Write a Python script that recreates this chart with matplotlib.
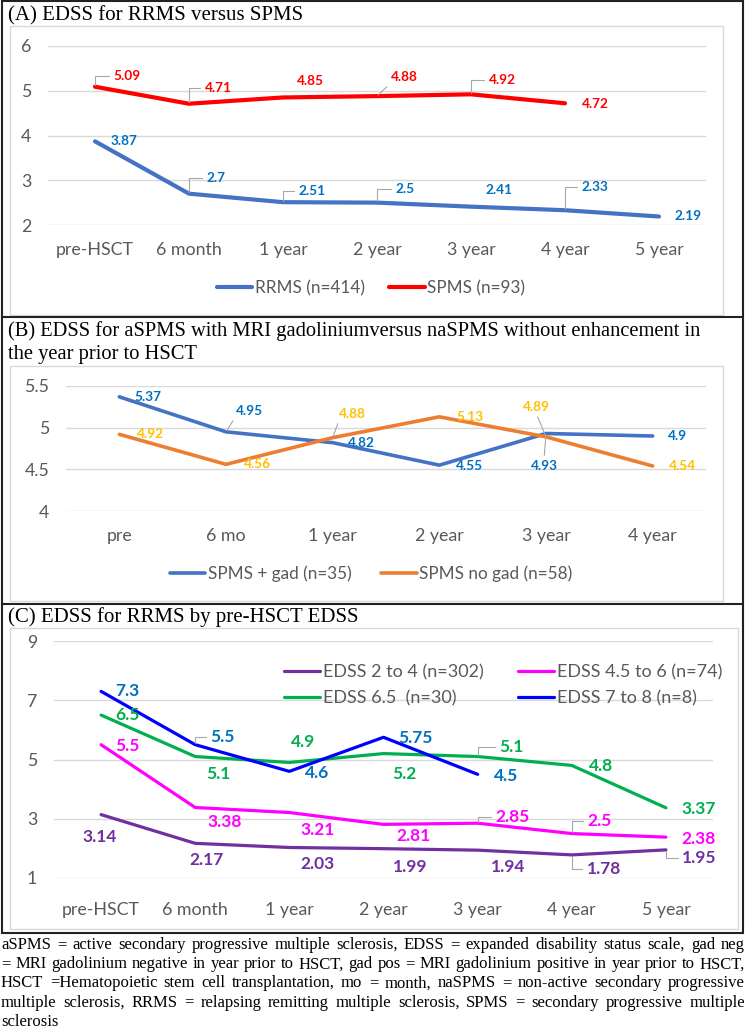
import matplotlib.pyplot as plt
from matplotlib.patches import Rectangle
from matplotlib.lines import Line2D

W, H = 749, 1035
plt.rcParams['font.family'] = ['Lato', 'DejaVu Sans']

# ---- data ----
cats_a = ["pre-HSCT", "6 month", "1 year", "2 year", "3 year", "4 year", "5 year"]
rrms = [3.87, 2.7, 2.51, 2.5, 2.41, 2.33, 2.19]
spms = [5.09, 4.71, 4.85, 4.88, 4.92, 4.72]

cats_b = ["pre", "6 mo", "1 year", "2 year", "3 year", "4 year"]
spms_gad = [5.37, 4.95, 4.82, 4.55, 4.93, 4.9]
spms_nogad = [4.92, 4.56, 4.88, 5.13, 4.89, 4.54]

cats_c = ["pre-HSCT", "6 month", "1 year", "2 year", "3 year", "4 year", "5 year"]
edss_2_4 = [3.14, 2.17, 2.03, 1.99, 1.94, 1.78, 1.95]
edss_45_6 = [5.5, 3.38, 3.21, 2.81, 2.85, 2.5, 2.38]
edss_65 = [6.5, 5.1, 4.9, 5.2, 5.1, 4.8, 3.37]
edss_7_8 = [7.3, 5.5, 4.6, 5.75, 4.5]

# label offsets in pixels (dx right, dy down) and leader line type
offs_spms = [(32, -11, 'L'), (29, -16, 'L'), (27, -16, None), (27, -19, 'diag'), (31, -14, 'L'), (30, 1, None)]
offs_rrms = [(29, 0, None), (27, -16, 'L'), (29, -11, 'L'), (28, -14, 'L'), (28, -17, None), (30, -23, 'L'), (29, 0, None)]
offs_gad = [(29, 0, None), (23, -21, 'diag'), (29, 0, None), (30, 1, None), (-2, 32, 'up'), (25, 0, None)]
offs_nogad = [(31, 0, None), (31, 0, None), (20, -24, 'diag'), (31, 0, None), (-10, -30, 'down'), (30, 0, None)]
offs_2_4 = [(-1, 22, None), (11, 17, None), (28, 17, None), (27, 18, None), (30, 17, None), (32, 14, 'L'), (33, 8, 'L')]
offs_45_6 = [(26, 1, None), (29, 15, None), (28, 17, None), (30, 12, None), (35, -6, 'L'), (28, -13, 'L'), (33, 2, None)]
offs_65 = [(26, 0, None), (23, 17, None), (14, -20, None), (21, 20, None), (34, -10, 'L'), (29, 1, None), (33, 1, None)]
offs_7_8 = [(26, 0, None), (27, -8, 'L'), (28, 2, None), (32, 1, None), (28, 2, None)]

footnote = [
    "aSPMS = active secondary progressive multiple sclerosis, EDSS = expanded disability status scale, gad neg",
    "= MRI gadolinium negative in year prior to HSCT, gad pos = MRI gadolinium positive in year prior to HSCT,",
    "HSCT =Hematopoietic stem cell transplantation, mo = month, naSPMS = non-active secondary progressive",
    "multiple sclerosis,  RRMS = relapsing remitting multiple sclerosis, SPMS = secondary progressive multiple",
    "sclerosis",
]

GRID = '#D9D9D9'
TICK = '#595959'
LEADERS = {
    'L': ((0, 0.5), 'angle,angleA=0,angleB=90,rad=0'),
    'diag': ((0, 0), 'arc3'),
    'down': ((0.5, 0), 'arc3'),
    'up': ((0.5, 1), 'arc3'),
}

fig = plt.figure(figsize=(W / 100, H / 100), dpi=100)


def fx(x):
    return x / W


def fy(y):
    return 1 - y / H


def box(x0, y0, x1, y1, color, lw):
    fig.patches.append(Rectangle((fx(x0), fy(y1)), fx(x1) - fx(x0), fy(y0) - fy(y1),
                                 transform=fig.transFigure, fill=False, edgecolor=color, lw=lw))


def make_ax(x0, y0, x1, y1, cats, ylim, yticks, pad_x):
    ax = fig.add_axes([fx(x0), fy(y1), fx(x1) - fx(x0), fy(y0) - fy(y1)])
    ax.set_xlim(-0.5, len(cats) - 0.5)
    ax.set_ylim(*ylim)
    ax.set_xticks(range(len(cats)))
    ax.set_xticklabels(cats)
    ax.set_yticks(yticks)
    ax.set_yticklabels([f"{t:g}" for t in yticks])
    ax.grid(axis='y', color=GRID, lw=1)
    ax.set_axisbelow(True)
    for s in ax.spines.values():
        s.set_visible(False)
    ax.tick_params(axis='both', length=0, colors=TICK, labelsize=12.8)
    ax.tick_params(axis='y', pad=12)
    ax.tick_params(axis='x', pad=pad_x)
    ax.patch.set_alpha(0)
    return ax


def plot_series(ax, vals, offs, color, lcolor, lw, size, label):
    ax.plot(range(len(vals)), vals, color=color, lw=lw, label=label,
            solid_joinstyle='round', solid_capstyle='round')
    for i, (v, (dx, dy, lead)) in enumerate(zip(vals, offs)):
        kw = dict(textcoords='offset pixels', ha='center', va='center',
                  color=lcolor, fontsize=size, fontweight='bold')
        if lead:
            rel, conn = LEADERS[lead]
            kw['arrowprops'] = dict(arrowstyle='-', color='#A6A6A6', lw=0.8, shrinkA=1,
                                    shrinkB=1, relpos=rel, connectionstyle=conn)
        ax.annotate(f"{v:g}", xy=(i, v), xytext=(dx, -dy), **kw)


# frames
box(2, 1, 743, 933, '#222222', 1.5)
fig.add_artist(Line2D([fx(2), fx(743)], [fy(317), fy(317)], color='#222222', lw=1.5))
fig.add_artist(Line2D([fx(2), fx(743)], [fy(604), fy(604)], color='#222222', lw=1.5))
box(10, 26, 723, 315, GRID, 1)
box(10, 366, 723, 601, GRID, 1)
box(10, 628, 738, 929, GRID, 1)

serif = 'Liberation Serif'
fig.text(fx(8), fy(16), "(A) EDSS for RRMS versus SPMS", family=serif, fontsize=15, va='center')
fig.text(fx(8), fy(331), "(B) EDSS for aSPMS with MRI gadoliniumversus naSPMS without enhancement in",
         family=serif, fontsize=14.8, va='center')
fig.text(fx(8), fy(355), "the year prior to HSCT", family=serif, fontsize=14.8, va='center')
fig.text(fx(8), fy(617), "(C) EDSS for RRMS by pre-HSCT EDSS", family=serif, fontsize=15, va='center')

# panel A
ax = make_ax(48, 46, 706, 225, cats_a, (2, 6), [2, 3, 4, 5, 6], 12)
plot_series(ax, rrms, offs_rrms, '#4472C4', '#0070C0', 3, 9.8, "RRMS (n=414)")
plot_series(ax, spms, offs_spms, '#FF0000', '#FF0000', 3, 9.8, "SPMS (n=93)")
ax.legend(loc='center', bbox_to_anchor=(fx(371), fy(288)), bbox_transform=fig.transFigure,
          ncol=2, frameon=False, fontsize=12.3, handlelength=2.1, handletextpad=0.15,
          columnspacing=1.4, labelcolor=TICK)

# panel B
ax = make_ax(66, 386, 706, 511, cats_b, (4, 5.5), [4, 4.5, 5, 5.5], 12)
plot_series(ax, spms_gad, offs_gad, '#4472C4', '#0070C0', 2.6, 9.8, "SPMS + gad (n=35)")
plot_series(ax, spms_nogad, offs_nogad, '#ED7D31', '#FFC000', 2.6, 9.8, "SPMS no gad (n=58)")
ax.legend(loc='center', bbox_to_anchor=(fx(371), fy(574)), bbox_transform=fig.transFigure,
          ncol=2, frameon=False, fontsize=12.3, handlelength=2.1, handletextpad=0.15,
          columnspacing=1.7, labelcolor=TICK)

# panel C
ax = make_ax(54, 641, 713, 878, cats_c, (1, 9), [1, 3, 5, 7, 9], 17)
plot_series(ax, edss_2_4, offs_2_4, '#7030A0', '#7030A0', 2.3, 12.5, "EDSS 2 to 4 (n=302)")
plot_series(ax, edss_45_6, offs_45_6, '#FF00FF', '#FF00FF', 2.3, 12.5, "EDSS 4.5 to 6 (n=74)")
plot_series(ax, edss_65, offs_65, '#00B050', '#00B050', 2.3, 12.5, "EDSS 6.5  (n=30)")
plot_series(ax, edss_7_8, offs_7_8, '#0000FF', '#0070C0', 2.3, 12.5, "EDSS 7 to 8 (n=8)")
h, l = ax.get_legend_handles_labels()
order = [0, 2, 1, 3]
ax.legend([h[i] for i in order], [l[i] for i in order], loc='center',
          bbox_to_anchor=(fx(503), fy(685)), bbox_transform=fig.transFigure,
          ncol=2, frameon=False, fontsize=13, handlelength=2.0, handletextpad=0.15,
          columnspacing=1.9, labelspacing=0.55, labelcolor=TICK)

# footnote, justified like the source (last line left aligned)
renderer = fig.canvas.get_renderer()
for k, line in enumerate(footnote):
    y = fy(945 + 19.2 * k)
    words = line.split()
    if k == len(footnote) - 1:
        fig.text(fx(1), y, line, family=serif, fontsize=12, va='center')
        continue
    texts = [fig.text(0, y, w, family=serif, fontsize=12, va='center') for w in words]
    widths = [t.get_window_extent(renderer).width for t in texts]
    gap = (744 - sum(widths)) / (len(words) - 1)
    x = 1
    for t, wd in zip(texts, widths):
        t.set_x(fx(x))
        x += wd + gap

fig.savefig("out.png", dpi=100)
